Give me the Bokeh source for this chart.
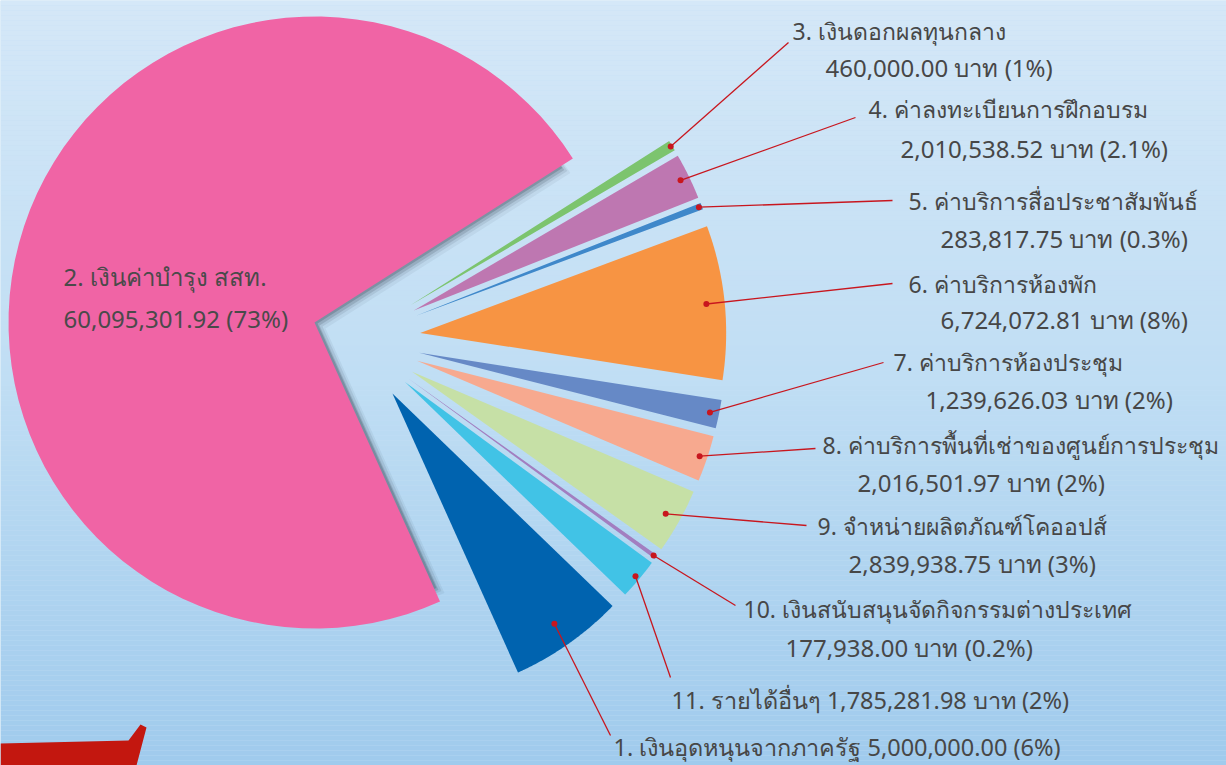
import numpy as np
from bokeh.plotting import figure
from bokeh.models import Range1d
from bokeh.embed import file_html
from bokeh.resources import INLINE
from bokeh.core.properties import value

# ---------------- data ----------------
item_numbers = ["1.", "2.", "3.", "4.", "5.", "6.", "7.", "8.", "9.", "10.", "11."]
item_names = [
    "เงินอุดหนุนจากภาครัฐ",
    "เงินค่าบำรุง สสท.",
    "เงินดอกผลทุนกลาง",
    "ค่าลงทะเบียนการฝึกอบรม",
    "ค่าบริการสื่อประชาสัมพันธ์",
    "ค่าบริการห้องพัก",
    "ค่าบริการห้องประชุม",
    "ค่าบริการพื้นที่เช่าของศูนย์การประชุม",
    "จำหน่ายผลิตภัณฑ์โคออปส์",
    "เงินสนับสนุนจัดกิจกรรมต่างประเทศ",
    "รายได้อื่นๆ",
]
amounts = [5000000.00, 60095301.92, 460000.00, 2010538.52, 283817.75,
           6724072.81, 1239626.03, 2016501.97, 2839938.75, 177938.00, 1785281.98]
pct_labels = ["6%", "73%", "1%", "2.1%", "0.3%", "8%", "2%", "2%", "3%", "0.2%", "2%"]
units = ["", "", " บาท", " บาท", " บาท", " บาท", " บาท", " บาท", " บาท", " บาท", " บาท"]
colors = ["#0063AF", "#F064A5", "#7CC46E", "#BE77B1", "#3F88CA", "#F79443",
          "#6689C6", "#F7A98F", "#C6E0A6", "#A27EC0", "#41C3E6"]

# ---------------- layout (pixels) ----------------
W, H = 1226, 765
CX, CY = 314.0, 322.0          # pie centre (page px, y downward)
R = 306.0
START_DEG = -44.0              # start angle of slice 1, slices go clockwise
GROUP_SHIFT = (40.0, 17.0)     # shift of the pulled-out group
EXPLODE = 66.0                 # explode distance of the small slices
FONT = value("Noto Sans")
HEAD_SIZE = "23px"
NUM_SIZE = "24px"
ONE_SIZE = "23.5px"
TXT_COLOR = "#474747"
LEAD_COLOR = "#C8161E"

# label placement: line1 (x, y), line2 (x, y) or None, leader end (x, y), dot radius fraction
label_layout = {
    0: dict(l1=(613, 746), l2=None, end=(610, 735), frac=0.92, one_line=True),
    2: dict(l1=(792, 30), l2=(825, 67), end=(788, 42), frac=0.995),
    3: dict(l1=(868, 108), l2=(900, 148), end=(855, 117), frac=0.97),
    4: dict(l1=(908, 200), l2=(940, 238), end=(892, 200), frac=0.99),
    5: dict(l1=(908, 283), l2=(940, 319), end=(892, 283), frac=0.94),
    6: dict(l1=(893, 361), l2=(925, 399), end=(883, 362), frac=0.97),
    7: dict(l1=(822, 444), l2=(857, 482), end=(815, 448), frac=0.975),
    8: dict(l1=(817, 525), l2=(848, 563), end=(806, 525), frac=0.95),
    9: dict(l1=(743, 608), l2=(785, 647), end=(735, 605), frac=0.99),
    10: dict(l1=(671, 699), l2=None, end=(670, 677), frac=0.985, one_line=True),
}

p = figure(width=W, height=H, output_backend="svg", toolbar_location=None,
           x_range=Range1d(0, W), y_range=Range1d(H, 0),
           min_border=0)
p.axis.visible = False
p.grid.visible = False
p.outline_line_color = None
p.background_fill_color = "#C4DFF4"
p.border_fill_color = "#C4DFF4"

# background gradient bands
stops_y = [0, 380, 765]
stops_c = [(213, 232, 248), (192, 222, 244), (160, 203, 237)]
band = 5
ys = np.arange(0, 770, band)
bc = []
for y in ys:
    r_ = np.interp(y, stops_y, [c[0] for c in stops_c])
    g_ = np.interp(y, stops_y, [c[1] for c in stops_c])
    b_ = np.interp(y, stops_y, [c[2] for c in stops_c])
    bc.append("#%02x%02x%02x" % (int(r_), int(g_), int(b_)))
p.quad(left=0, right=1230, top=ys, bottom=ys + band, fill_color=bc, line_color=None)

# decorative red ribbon (bottom-left)
p.patch([0, 128, 140, 146, 136, 0], [743, 740, 724, 727, 765, 765],
        fill_color="#C3170F", line_color=None)

# ---------------- pie geometry ----------------
vals = np.array(amounts)
widths = vals / vals.sum() * 360.0
hi = START_DEG - np.concatenate([[0], np.cumsum(widths)[:-1]])
lo = hi - widths
mid = (hi + lo) / 2.0

apex = []
for i in range(len(vals)):
    if i == 1:
        apex.append((CX, CY))
    else:
        m = np.radians(mid[i])
        apex.append((CX + GROUP_SHIFT[0] + EXPLODE * np.cos(m),
                     CY + GROUP_SHIFT[1] - EXPLODE * np.sin(m)))


def wedge_xy(ax, ay, a1, a2, r, n=80):
    t = np.radians(np.linspace(a1, a2, n))
    xs = [ax] + list(ax + r * np.cos(t)) + [ax]
    ys_ = [ay] + list(ay - r * np.sin(t)) + [ay]
    return xs, ys_


# shadow of the big slice (visible inside the notch)
for (dx, dy, a) in [(11, 6, 0.06), (8, 4, 0.1), (5, 3, 0.16), (3, 1, 0.22)]:
    xs, ys_ = wedge_xy(CX + dx, CY + dy, hi[1], lo[1], R - 16)
    p.patch(xs, ys_, fill_color="#233240", fill_alpha=a, line_color=None)

for i in range(len(vals)):
    xs, ys_ = wedge_xy(apex[i][0], apex[i][1], hi[i], lo[i], R)
    p.patch(xs, ys_, fill_color=colors[i], line_color=None)

# ---------------- labels ----------------
for i, lay in label_layout.items():
    m = np.radians(mid[i])
    dxp = apex[i][0] + lay["frac"] * R * np.cos(m)
    dyp = apex[i][1] - lay["frac"] * R * np.sin(m)
    p.line([dxp, lay["end"][0]], [dyp, lay["end"][1]], line_color=LEAD_COLOR, line_width=1.3)
    p.scatter([dxp], [dyp], size=6, fill_color=LEAD_COLOR, line_color=None)
    amt = "{:,.2f}".format(amounts[i]) + units[i] + " (" + pct_labels[i] + ")"
    head = item_numbers[i] + " " + item_names[i]
    if lay.get("one_line"):
        p.text([lay["l1"][0]], [lay["l1"][1]], text=[head + " " + amt],
               text_font=FONT, text_font_size=ONE_SIZE, text_color=TXT_COLOR,
               text_baseline="middle", text_align="left")
    else:
        p.text([lay["l1"][0]], [lay["l1"][1]], text=[head],
               text_font=FONT, text_font_size=HEAD_SIZE, text_color=TXT_COLOR,
               text_baseline="middle", text_align="left")
        p.text([lay["l2"][0]], [lay["l2"][1]], text=[amt],
               text_font=FONT, text_font_size=NUM_SIZE, text_color=TXT_COLOR,
               text_baseline="middle", text_align="left")

# label inside the big slice
p.text([63, 63], [276, 318],
       text=[item_numbers[1] + " " + item_names[1],
             "{:,.2f}".format(amounts[1]) + units[1] + " (" + pct_labels[1] + ")"],
       text_font=FONT, text_font_size=NUM_SIZE, text_color="#4a4a4a",
       text_baseline="middle", text_align="left")

open("out.html", "w").write(file_html(p, INLINE))
